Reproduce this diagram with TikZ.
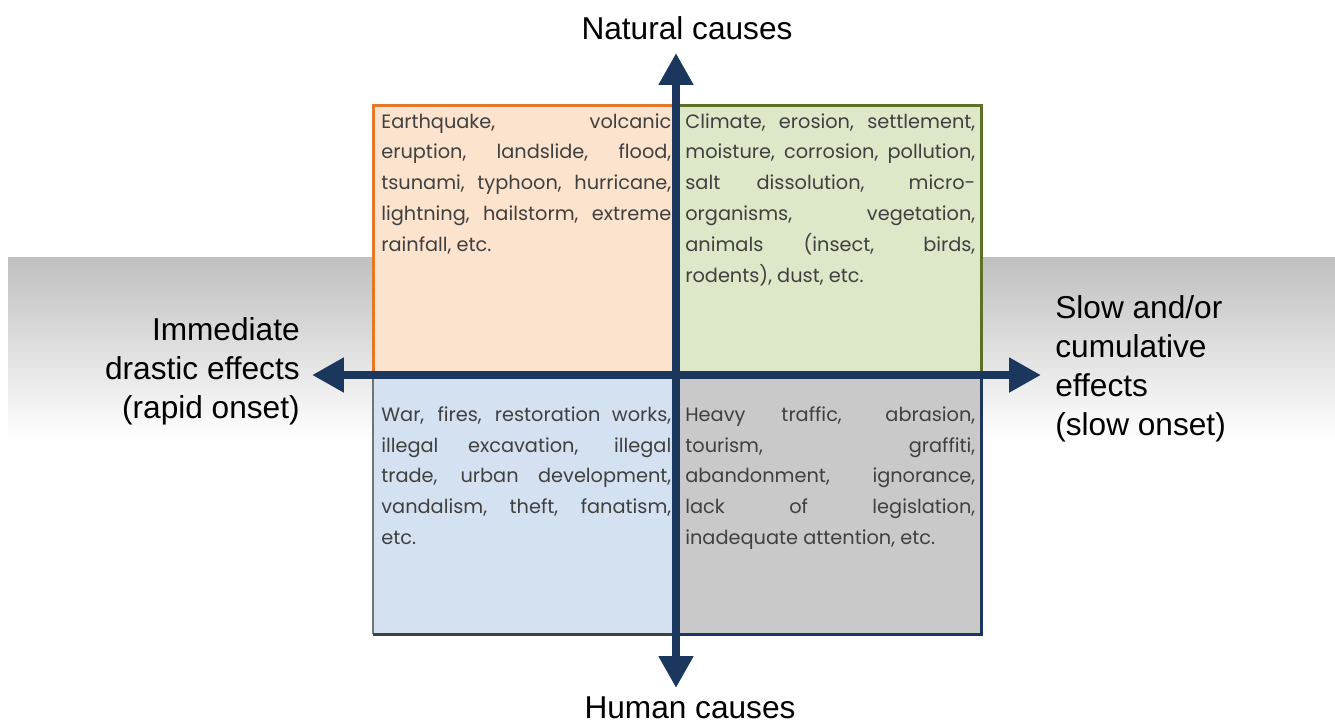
\documentclass[tikz,border=0pt]{standalone}
\usepackage{fontspec}
\setmainfont{Liberation Sans}
\newfontfamily\quadfont{Poppins}
\usetikzlibrary{arrows.meta}
\hyphenpenalty=10000

\definecolor{axisblue}{HTML}{1B375E}
\definecolor{peach}{HTML}{FCE3CE}
\definecolor{peachline}{HTML}{E3782B}
\definecolor{sage}{HTML}{DCE8C8}
\definecolor{sageline}{HTML}{5E7026}
\definecolor{skyblue}{HTML}{D3E1F1}
\definecolor{stone}{HTML}{C9C9C9}

\begin{document}
\begin{tikzpicture}[x=0.02cm,y=-0.02cm]
    \tikzstyle{cause} = [font=\fontsize{18}{22.3}\selectfont, inner sep=0pt]
    \tikzstyle{effect} = [font=\fontsize{18}{22.3}\selectfont, inner sep=0pt]
    \tikzstyle{quadtext} = [anchor=north west, inner sep=0pt, text width=5.8cm, align=justify,
                            font=\quadfont\fontsize{11}{17.6}\selectfont, text=black!75]
    \tikzstyle{axis} = [line width=0.16cm, draw=axisblue,
                        {Triangle[width=0.66cm,length=0.64cm]}-{Triangle[width=0.66cm,length=0.64cm]}]

    \useasboundingbox (0,0) rectangle (1335,724);

    %%% BACKGROUND BAND
    \shade[top color=black!25, bottom color=white] (8,257) rectangle (1335,440);

    %%% QUADRANTS
    \fill[peach] (373,105) rectangle (677,376);
    \fill[sage] (677,105) rectangle (981,376);
    \fill[skyblue] (373,376) rectangle (677,634);
    \fill[stone] (677,376) rectangle (981,634);
    \draw[peachline, line width=3*0.02cm] (373,376) -- (373,105) -- (677,105);
    \draw[sageline, line width=3*0.02cm] (677,105) -- (981,105) -- (981,376);
    \draw[black!55, line width=2*0.02cm] (373,376) -- (373,634);
    \draw[black!75, line width=3*0.02cm] (373,634) -- (677,634);
    \draw[axisblue, line width=3*0.02cm] (677,634) -- (981,634) -- (981,376);

    \node[quadtext] (natfast) at (381,113) {Earthquake, volcanic\linebreak eruption, landslide, flood,\linebreak tsunami, typhoon, hurricane,\linebreak lightning, hailstorm, extreme\linebreak rainfall, etc.};
    \node[quadtext] (natslow) at (685,113) {Climate, erosion, settlement,\linebreak moisture, corrosion, pollution,\linebreak salt dissolution, micro-\linebreak organisms, vegetation,\linebreak animals (insect, birds,\linebreak rodents), dust, etc.};
    \node[quadtext] (humfast) at (381,406) {War, fires, restoration works,\linebreak illegal excavation, illegal\linebreak trade, urban development,\linebreak vandalism, theft, fanatism,\linebreak etc.};
    \node[quadtext] (humslow) at (685,406) {Heavy traffic, abrasion,\linebreak tourism, graffiti,\linebreak abandonment, ignorance,\linebreak lack of legislation,\linebreak inadequate attention, etc.};

    %%% AXES
    \coordinate (north) at (676,53);
    \coordinate (south) at (676,688);
    \coordinate (west) at (312,375);
    \coordinate (east) at (1041,375);
    \draw[axis] (south) -- (north);
    \draw[axis] (west) -- (east);

    %%% LABELS
    \node[cause] (natural) at (687,28) {Natural causes};
    \node[cause] (human) at (690,708) {Human causes};
    \node[effect, anchor=east, align=right] (rapid) at (300,371) {Immediate\\drastic effects\\(rapid onset)};
    \node[effect, anchor=west, align=left] (slow) at (1055,369) {Slow and/or\\cumulative\\effects\\(slow onset)};
\end{tikzpicture}
\end{document}
